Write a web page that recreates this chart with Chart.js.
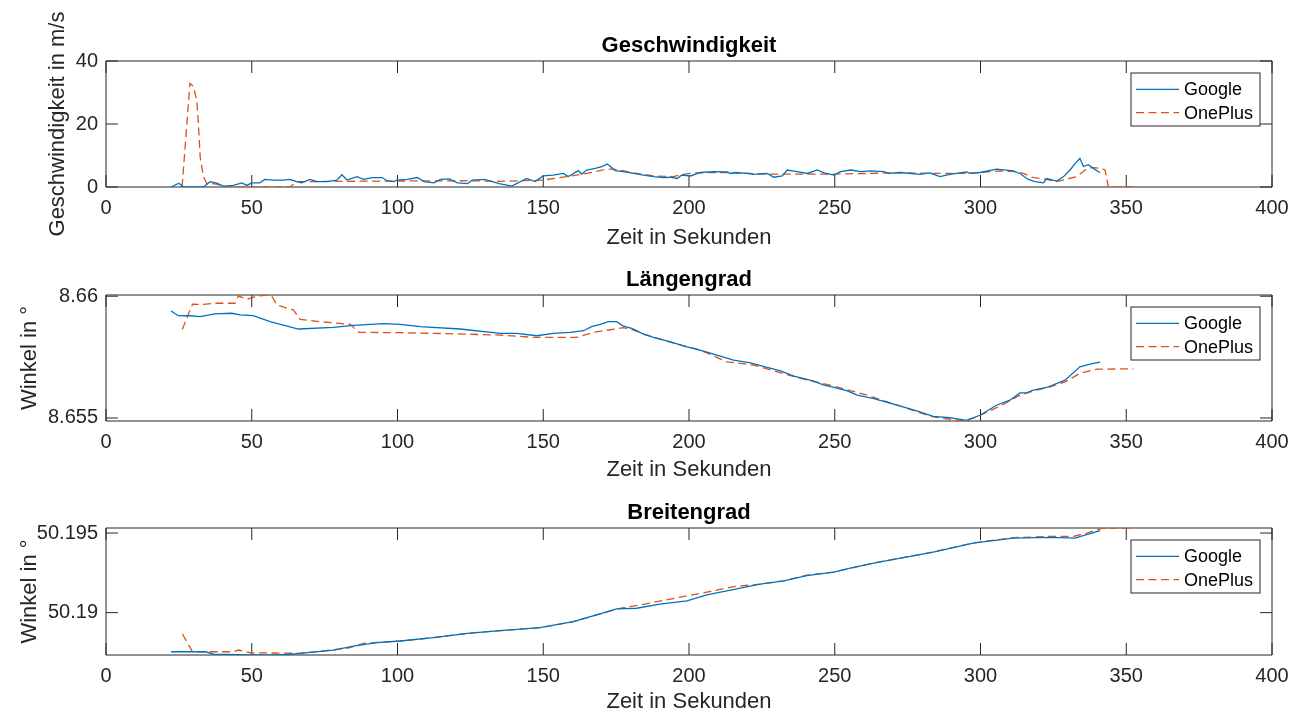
<!DOCTYPE html>
<html>
<head>
<meta charset="utf-8">
<script src="https://cdn.jsdelivr.net/npm/chart.js@4.4.1/dist/chart.umd.min.js"></script>
<style>
  html, body { margin: 0; padding: 0; background: #fff; }
  .plot { position: absolute; left: 0; }
</style>
</head>
<body>
<div class="plot" style="top:0"><canvas id="speedChart" width="1298" height="252"></canvas></div>
<div class="plot" style="top:252px"><canvas id="lonChart" width="1298" height="232"></canvas></div>
<div class="plot" style="top:484px"><canvas id="latChart" width="1298" height="232"></canvas></div>
<script>
// x ticks (Zeit in Sekunden)
const timeTicks = [0, 50, 100, 150, 200, 250, 300, 350, 400];

// Geschwindigkeit in m/s
const speedTicks = [0, 20, 40];
const googleSpeedT = [22.3, 25, 26.6, 33.4, 35.7, 38, 40.3, 43.7, 46.6, 48.3,
  50, 52.8, 54.5, 57.4, 60.8, 63.1, 65.4, 67.1, 70, 72.3,
  75.8, 79.2, 80.9, 82.7, 86.1, 88.4, 91.3, 94.7, 96.4, 98.7,
  99.9, 103.3, 106.8, 109.1, 112.5, 114.8, 117.7, 120.6, 124, 125.7,
  129.8, 134.9, 139.2, 144.3, 147.2, 150, 153.4, 156.9, 158.6, 162,
  163.2, 164.9, 167.8, 170.1, 172, 174.7, 177.5, 181, 184.4, 187.8,
  191.3, 193.6, 195.9, 197.6, 200.5, 203.9, 208.5, 213.1, 214.2, 215.9,
  219.9, 222.2, 226.8, 229.1, 232, 233.7, 237.1, 240.6, 244, 246.3,
  249.7, 252, 255.5, 258.9, 262.3, 266.9, 268.6, 272.6, 279.2, 282.6,
  286.1, 289.5, 295.2, 296.4, 299.8, 305.5, 311.2, 313.5, 316.4, 318.7,
  321.6, 322.7, 326.2, 328.5, 330.7, 332.5, 334.1, 335.3, 337, 338.7,
  341];
const googleSpeed = [0, 1.2, 0, 0, 1.7, 1.2, 0.3, 0.5, 1.3, 0.5,
  1.3, 1.3, 2.4, 2.2, 2.2, 2.4, 1.7, 1.3, 2.4, 1.7,
  1.7, 2.2, 3.9, 2.2, 3.3, 2.4, 3.0, 3.0, 2.0, 1.7,
  2.2, 2.4, 3.0, 1.7, 1.3, 2.4, 2.6, 1.3, 1.1, 2.2,
  2.4, 1.1, 0.3, 2.7, 1.7, 3.5, 3.8, 4.3, 3.3, 5.2,
  4.1, 5.4, 5.9, 6.5, 7.3, 5.2, 4.9, 4.3, 3.8, 3.3,
  3.0, 3.1, 2.7, 3.8, 3.5, 4.6, 4.9, 4.8, 4.3, 4.6,
  4.3, 4.0, 4.3, 3.1, 3.5, 5.4, 4.9, 4.3, 5.4, 4.5,
  3.8, 4.9, 5.4, 4.9, 5.1, 4.9, 4.3, 4.6, 4.0, 4.5,
  3.3, 4.0, 4.8, 4.3, 4.6, 5.7, 5.1, 4.3, 2.4, 1.7,
  1.3, 2.7, 1.9, 3.3, 5.4, 7.5, 9.1, 6.5, 7.1, 5.9,
  4.5];
const onePlusSpeedT = [26.1, 28.8, 30, 31.1, 31.7, 32.3, 33.4, 34.6, 35.7, 38,
  40.3, 63.1, 65.4, 80, 100, 124, 135.2, 150, 158, 164.9,
  171.8, 174.7, 181, 187.8, 194.7, 197.6, 202.7, 209.6, 215.3, 226.8,
  238.2, 249.7, 261.2, 272.6, 283.7, 295.2, 306.6, 311.8, 314.7, 318.1,
  322.7, 326.2, 333, 335.9, 338.2, 341.6, 342.7, 343.9, 352.4];
const onePlusSpeed = [0, 32.9, 31.9, 27.6, 20.2, 9.6, 3.3, 1.1, 1.1, 0.9,
  0, 0, 1.7, 1.8, 1.9, 2.0, 1.8, 2.2, 3.3, 4.3,
  5.7, 5.6, 4.5, 3.5, 3.3, 4.0, 4.5, 4.6, 4.5, 4.1,
  4.1, 4.1, 4.3, 4.5, 4.3, 4.3, 5.1, 4.9, 4.3, 3.0,
  2.4, 1.7, 3.3, 5.4, 6.2, 5.9, 5.4, 0, 0];

// Längengrad in °
const lonTicks = [8.655, 8.66];
const googleLonT = [22.3, 24.8, 28.8, 32.2, 37.4, 43.1, 46, 50.5, 56.3, 66,
  78, 84.9, 95.2, 100.9, 107.8, 121.5, 135.2, 140.9, 147.8, 153.4,
  159.2, 163.8, 166.6, 169.5, 172.4, 175.2, 177.5, 180.4, 184.4, 187.8,
  193.6, 199.3, 205, 209.6, 215.3, 221.1, 226.8, 231.4, 236, 242.8,
  246.3, 249.7, 254.3, 257.7, 263.4, 272.6, 278.1, 283.8, 289.5, 295.2,
  299.8, 305.5, 310.1, 313.5, 315.8, 318.1, 322.7, 329, 334.1, 337.6,
  341];
const googleLon = [8.659395, 8.659201, 8.659197, 8.65916, 8.659271, 8.6593, 8.659231, 8.659201, 8.658954, 8.658653,
  8.658723, 8.658806, 8.658872, 8.658846, 8.658748, 8.658653, 8.658476, 8.658476, 8.658377, 8.658476,
  8.658517, 8.658583, 8.658748, 8.658846, 8.658954, 8.658954, 8.658776, 8.658682, 8.658447, 8.658311,
  8.65813, 8.657924, 8.657747, 8.657582, 8.657376, 8.657265, 8.657076, 8.656936, 8.656718, 8.656512,
  8.656347, 8.656252, 8.656112, 8.655935, 8.655799, 8.655482, 8.655288, 8.65507, 8.655016, 8.654905,
  8.655111, 8.655523, 8.655729, 8.65603, 8.65603, 8.656141, 8.656252, 8.656553, 8.657101, 8.657212,
  8.657294];
const onePlusLonT = [26.2, 27.9, 29.7, 33.4, 37.4, 44.3, 45.4, 48.3, 51.7, 55.2,
  56.9, 58.6, 62.1, 64.3, 66.6, 73.5, 83.8, 86.7, 100.9, 112.3,
  135.2, 146.6, 161.5, 167.2, 177.5, 181, 184.4, 193.6, 203.9, 213,
  222.2, 230.3, 238.3, 249.7, 261.2, 272.6, 283.8, 294.6, 298.6, 306.6,
  313.5, 318.1, 323.9, 329, 334.1, 339.9, 352.4];
const onePlusLon = [8.658641, 8.65916, 8.65967, 8.659662, 8.659712, 8.659712, 8.660012, 8.659876, 8.66, 8.66005,
  8.66, 8.659642, 8.659506, 8.659437, 8.659053, 8.658954, 8.658846, 8.658517, 8.658503, 8.658476,
  8.658406, 8.658311, 8.658311, 8.658517, 8.658707, 8.658611, 8.658447, 8.65811, 8.657788, 8.657306,
  8.657171, 8.656895, 8.656623, 8.656306, 8.655935, 8.655482, 8.655041, 8.654876, 8.655041, 8.655482,
  8.655935, 8.656112, 8.656277, 8.656483, 8.656829, 8.657006, 8.657018];

// Breitengrad in °
const latTicks = [50.19, 50.195];
const googleLatT = [22.3, 34, 36.9, 50, 60, 66.6, 78, 84.9, 92.9, 100.9,
  112.3, 124, 135.2, 148.9, 160.3, 168.3, 175.2, 182, 190, 199.3,
  206.1, 213, 224.4, 232.5, 240.4, 249.7, 255.3, 263.4, 272.6, 283.8,
  297.5, 311.2, 323.8, 332.4, 341];
const googleLat = [50.187544, 50.187544, 50.1874, 50.18734, 50.18734, 50.187443, 50.187651, 50.187903, 50.188111, 50.188218,
  50.188426, 50.188703, 50.188866, 50.189055, 50.189433, 50.189855, 50.190233, 50.190277, 50.190529, 50.190737,
  50.191115, 50.191367, 50.191788, 50.191996, 50.19233, 50.192544, 50.192796, 50.193111, 50.193426, 50.193804,
  50.19437, 50.194685, 50.194723, 50.194685, 50.195145];
const onePlusLatT = [26.2, 29.7, 35.7, 43.7, 45.4, 49.5, 66.6, 82.7, 88.4, 100.9,
  112.3, 124, 135.2, 148.9, 160.3, 168.3, 175.2, 183.2, 199.3, 206.1,
  215.3, 224.4, 232.5, 240.4, 249.7, 263.4, 272.6, 283.8, 297.5, 311.2,
  323.8, 331.9, 336.4, 342.2, 352.4];
const onePlusLat = [50.188659, 50.187544, 50.187544, 50.187544, 50.187651, 50.187481, 50.187443, 50.187758, 50.188073, 50.188218,
  50.188426, 50.188703, 50.188866, 50.189055, 50.189433, 50.189855, 50.190233, 50.190485, 50.191052, 50.191285,
  50.191637, 50.191788, 50.192, 50.19235, 50.19255, 50.19312, 50.19343, 50.19381, 50.19438, 50.19471,
  50.194786, 50.194786, 50.195, 50.195315, 50.195315];

const FONT = "'Liberation Sans', Arial, Helvetica, sans-serif";
const AXIS_COLOR = '#262626';
const BLUE = '#0072BD';
const ORANGE = '#D95319';
const TICK_LEN = 12;

const zip = (t, v) => t.map((x, i) => ({ x: x, y: v[i] }));

// box, inward tick marks and a framed legend in the upper right corner
const matlabAxes = {
  id: 'matlabAxes',
  beforeDatasetsDraw(chart) {
    const { ctx, chartArea: a, scales: { x, y } } = chart;
    ctx.save();
    ctx.strokeStyle = AXIS_COLOR;
    ctx.lineWidth = 1;
    ctx.beginPath();
    x.ticks.forEach(t => {
      const px = x.getPixelForValue(t.value);
      ctx.moveTo(px, a.bottom); ctx.lineTo(px, a.bottom - TICK_LEN);
      ctx.moveTo(px, a.top); ctx.lineTo(px, a.top + TICK_LEN);
    });
    y.ticks.forEach(t => {
      const py = y.getPixelForValue(t.value);
      ctx.moveTo(a.left, py); ctx.lineTo(a.left + TICK_LEN, py);
      ctx.moveTo(a.right, py); ctx.lineTo(a.right - TICK_LEN, py);
    });
    ctx.rect(a.left, a.top, a.right - a.left, a.bottom - a.top);
    ctx.stroke();
    ctx.restore();
  },
  afterDatasetsDraw(chart) {
    const { ctx, chartArea: a } = chart;
    const w = 129, h = 53;
    const left = a.right - 12 - w, top = a.top + 12;
    ctx.save();
    ctx.fillStyle = '#fff';
    ctx.fillRect(left, top, w, h);
    ctx.strokeStyle = AXIS_COLOR;
    ctx.lineWidth = 1;
    ctx.strokeRect(left, top, w, h);
    ctx.font = '18px ' + FONT;
    ctx.textBaseline = 'middle';
    ctx.textAlign = 'left';
    chart.data.datasets.forEach((ds, i) => {
      const cy = top + 16.3 + i * 23.4;
      ctx.strokeStyle = ds.borderColor;
      ctx.lineWidth = ds.borderWidth;
      ctx.setLineDash(ds.borderDash || []);
      ctx.beginPath();
      ctx.moveTo(left + 5, cy);
      ctx.lineTo(left + 48, cy);
      ctx.stroke();
      ctx.setLineDash([]);
      ctx.fillStyle = '#000';
      ctx.fillText(ds.label, left + 53, cy + 1);
    });
    ctx.restore();
  }
};

function makeChart(id, cfg) {
  const canvas = document.getElementById(id);
  const H = canvas.height;
  return new Chart(canvas, {
    type: 'line',
    data: {
      datasets: [
        { label: 'Google', data: zip(cfg.googleT, cfg.google), borderColor: BLUE, borderWidth: 1.3 },
        { label: 'OnePlus', data: zip(cfg.onePlusT, cfg.onePlus), borderColor: ORANGE, borderWidth: 1.3, borderDash: [8, 4.5] }
      ]
    },
    options: {
      responsive: false,
      animation: false,
      events: [],
      parsing: false,
      elements: { point: { radius: 0 }, line: { tension: 0 } },
      layout: { padding: { left: 0, right: 26, top: 0, bottom: 0 } },
      plugins: {
        legend: { display: false },
        tooltip: { enabled: false },
        title: {
          display: true,
          text: cfg.title,
          fullSize: false,
          color: '#000',
          font: { family: FONT, size: 22, weight: 'bold' },
          padding: { top: cfg.areaTop - 28.4, bottom: 2 }
        }
      },
      scales: {
        x: {
          type: 'linear',
          min: 0,
          max: 400,
          afterBuildTicks: s => { s.ticks = timeTicks.map(v => ({ value: v })); },
          afterFit: s => { s.height = H - cfg.areaBottom; },
          grid: { display: false, drawTicks: false },
          border: { display: false },
          ticks: { color: AXIS_COLOR, font: { family: FONT, size: 20 }, padding: 9, maxRotation: 0, callback: v => String(v) },
          title: { display: true, text: 'Zeit in Sekunden', color: AXIS_COLOR, font: { family: FONT, size: 22 }, padding: { top: 0, bottom: 0.5 } }
        },
        y: {
          type: 'linear',
          min: cfg.yMin,
          max: cfg.yMax,
          afterBuildTicks: s => { s.ticks = cfg.yTicks.map(v => ({ value: v })); },
          afterFit: s => { s.width = 106; },
          grid: { display: false, drawTicks: false },
          border: { display: false },
          ticks: { color: AXIS_COLOR, font: { family: FONT, size: 20 }, padding: 8, callback: v => String(v) },
          title: { display: true, text: cfg.yLabel, color: AXIS_COLOR, font: { family: FONT, size: 22 }, padding: { top: cfg.yTitlePad, bottom: 0 } }
        }
      }
    },
    plugins: [matlabAxes]
  });
}

const minOf = (...arrs) => Math.min(...arrs.flat());
const maxOf = (...arrs) => Math.max(...arrs.flat());

makeChart('speedChart', {
  title: 'Geschwindigkeit', yLabel: 'Geschwindigkeit in m/s',
  googleT: googleSpeedT, google: googleSpeed, onePlusT: onePlusSpeedT, onePlus: onePlusSpeed,
  yMin: 0, yMax: 40, yTicks: speedTicks,
  areaTop: 61, areaBottom: 187, yTitlePad: 44.8
});

makeChart('lonChart', {
  title: 'Längengrad', yLabel: 'Winkel in °',
  googleT: googleLonT, google: googleLon, onePlusT: onePlusLonT, onePlus: onePlusLon,
  yMin: minOf(googleLon, onePlusLon), yMax: maxOf(googleLon, onePlusLon), yTicks: lonTicks,
  areaTop: 43, areaBottom: 169, yTitlePad: 16.8
});

makeChart('latChart', {
  title: 'Breitengrad', yLabel: 'Winkel in °',
  googleT: googleLatT, google: googleLat, onePlusT: onePlusLatT, onePlus: onePlusLat,
  yMin: minOf(googleLat, onePlusLat), yMax: maxOf(googleLat, onePlusLat), yTicks: latTicks,
  areaTop: 44, areaBottom: 171, yTitlePad: 16.8
});
</script>
</body>
</html>
